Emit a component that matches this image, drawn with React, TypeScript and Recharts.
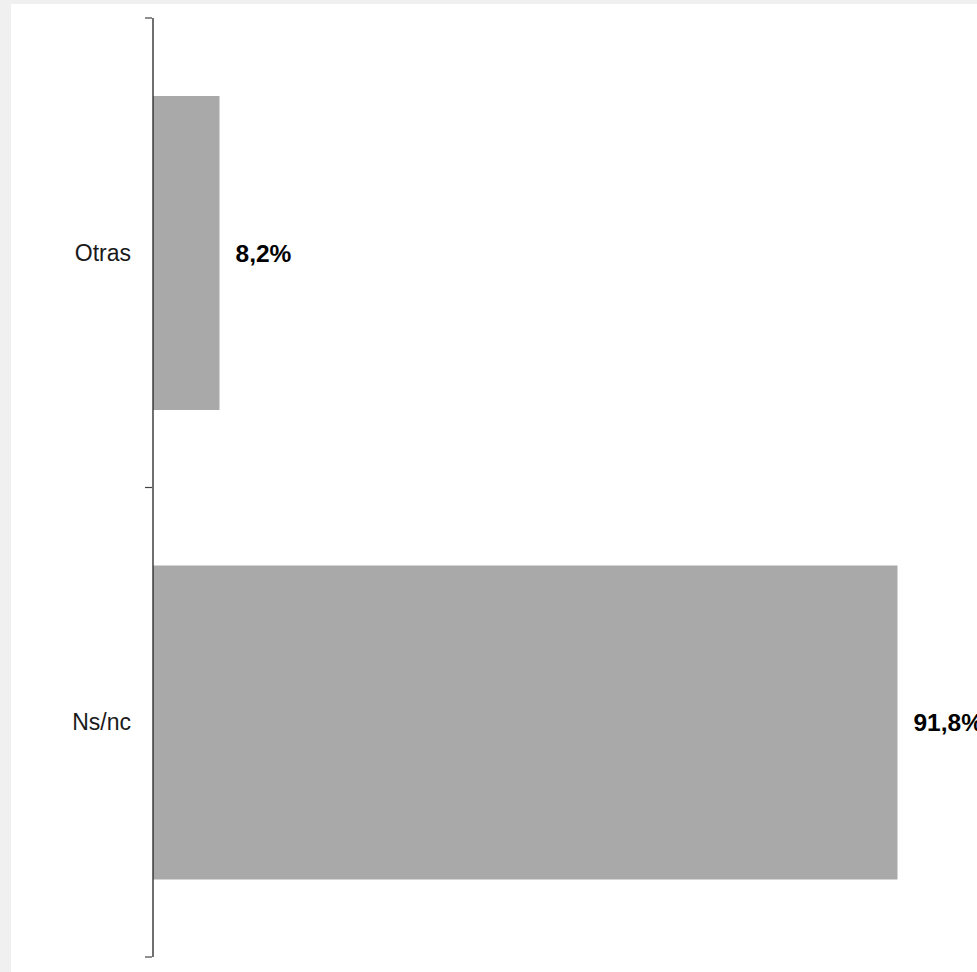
import { BarChart, Bar, XAxis, YAxis, LabelList } from "recharts";

const categories = ["Otras", "Ns/nc"];
const values = [8.2, 91.8];

const data = categories.map((name, i) => ({ name, value: values[i] }));

const FONT = "'Liberation Sans', Arial, Helvetica, sans-serif";

const fmt = (v: any) => `${Number(v).toFixed(1).replace(".", ",")}%`;

// category tick: label at the centre, tick marks at the band edges
function BandTick(props: any) {
  const { x, y, payload, index, visibleTicksCount } = props;
  const half = payload.offset ?? 0;
  const axisX = x + 7;
  return (
    <g>
      <line x1={axisX - 7} x2={axisX} y1={y - half} y2={y - half} stroke="#444" strokeWidth={1.2} />
      {index === visibleTicksCount - 1 && (
        <line x1={axisX - 7} x2={axisX} y1={y + half} y2={y + half} stroke="#444" strokeWidth={1.2} />
      )}
      <text x={x - 14} y={y} dy="0.355em" textAnchor="end" fill="#1a1a1a" fontSize={23} fontFamily={FONT}>
        {payload.value}
      </text>
    </g>
  );
}

export default function App() {
  return (
    <div style={{ position: "absolute", left: 0, top: 0, width: 977, height: 972, background: "#f0f0f0", overflow: "hidden" }}>
      <div style={{ position: "absolute", left: 11, top: 4, right: 0, bottom: 0, background: "#ffffff" }} />
      <div style={{ position: "absolute", left: 0, top: 0 }}>
        <BarChart
          width={977}
          height={972}
          data={data}
          layout="vertical"
          margin={{ top: 18, right: 13, bottom: 15, left: 0 }}
          barCategoryGap="16.6%"
        >
          <XAxis type="number" domain={[0, 100]} hide />
          <YAxis
            type="category"
            dataKey="name"
            width={153}
            axisLine={{ stroke: "#222", strokeWidth: 1.3 }}
            tickLine={false}
            tick={<BandTick />}
          />
          <Bar dataKey="value" fill="#A9A9A9" isAnimationActive={false}>
            <LabelList
              dataKey="value"
              position="right"
              offset={16}
              formatter={fmt}
              fill="#000"
              fontSize={24.5}
              fontWeight="bold"
              fontFamily={FONT}
            />
          </Bar>
        </BarChart>
      </div>
    </div>
  );
}
